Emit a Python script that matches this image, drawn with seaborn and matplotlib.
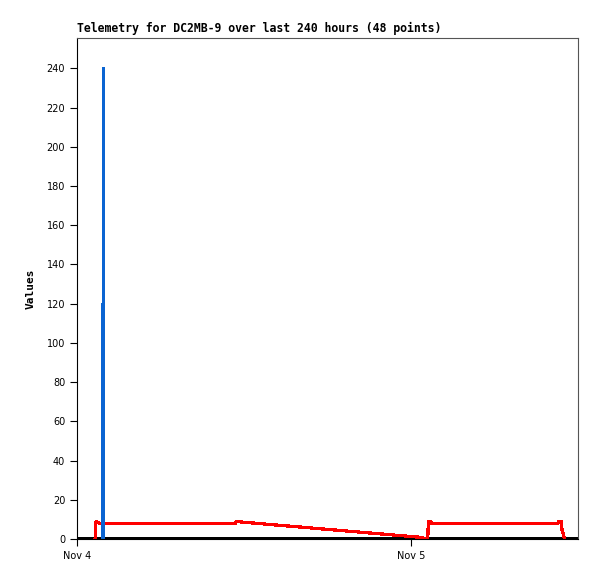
# Telemetry chart for DC2MB-9 (recreated)

import pandas as pd
import numpy as np
import matplotlib.pyplot as plt
import matplotlib.dates as mdates
import seaborn as sns

# --- data: hours after Nov 4 00:00 and values
start = pd.Timestamp("2024-11-04 00:00")

blue_hours = [1.78, 1.78, 1.90, 1.90, 1.90]
blue_values = [0, 120, 120, 240, 0]

red_hours = [1.30, 1.35, 1.40, 1.60, 11.40, 11.45, 11.90, 24.80, 24.85, 25.20,
             25.25, 25.40, 25.50, 34.55, 34.60, 34.80, 34.85, 35.05]
red_values = [0, 8.5, 9.0, 8.0, 8.0, 9.0, 8.6, 0.8, 0, 0,
              8.8, 8.8, 8.0, 8.0, 8.8, 8.8, 4.5, 0]

black_hours = [0, 36]
black_values = [0, 0]

tick_days = ["2024-11-04", "2024-11-05"]

def to_time(hours):
    return [start + pd.Timedelta(hours=h) for h in hours]

blue = pd.DataFrame({"time": to_time(blue_hours), "value": blue_values})
red = pd.DataFrame({"time": to_time(red_hours), "value": red_values})
black = pd.DataFrame({"time": to_time(black_hours), "value": black_values})

# --- plot
sns.set_style("ticks")
plt.rcParams['font.family'] = ['DejaVu Sans', 'DejaVu Sans Mono']
plt.rcParams['text.color'] = 'black'
plt.rcParams['xtick.color'] = 'black'
plt.rcParams['ytick.color'] = 'black'
plt.rcParams['axes.labelcolor'] = 'black'

fig = plt.figure(figsize=(5.97, 5.79), dpi=100)
ax = fig.add_axes([77 / 597, 1 - 539 / 579, 501 / 597, 501 / 579])

sns.lineplot(data=black, x="time", y="value", color="black", linewidth=2.2,
             estimator=None, sort=False, ax=ax, antialiased=False)
sns.lineplot(data=red, x="time", y="value", color="#ff0000", linewidth=1.6,
             estimator=None, sort=False, ax=ax, antialiased=False,
             solid_joinstyle="round")
sns.lineplot(data=blue, x="time", y="value", color="#0a64d2", linewidth=2.0,
             estimator=None, sort=False, ax=ax, antialiased=False,
             solid_joinstyle="round")

ax.set_xlim(start, start + pd.Timedelta(hours=36))
ax.set_ylim(0, 255.5)
ax.set_yticks(np.arange(0, 241, 20))
ax.set_xticks(pd.to_datetime(tick_days))
ax.xaxis.set_major_formatter(mdates.DateFormatter("%b %-d"))

ax.tick_params(axis="both", labelsize=7, length=5, width=0.8, color="black")
ax.set_xlabel("")
ax.set_ylabel("Values", fontsize=8, fontweight="bold", labelpad=8,
              family="DejaVu Sans Mono")
ax.set_title("Telemetry for DC2MB-9 over last 240 hours (48 points)",
             loc="left", fontsize=8.3, fontweight="bold", pad=4,
             family="DejaVu Sans Mono")

for side in ["left", "bottom"]:
    ax.spines[side].set_color("black")
    ax.spines[side].set_linewidth(0.8)
for side in ["top", "right"]:
    ax.spines[side].set_visible(True)
    ax.spines[side].set_color("#555555")
    ax.spines[side].set_linewidth(0.8)

fig.savefig("out.png", dpi=100, facecolor="white")
plt.close()
